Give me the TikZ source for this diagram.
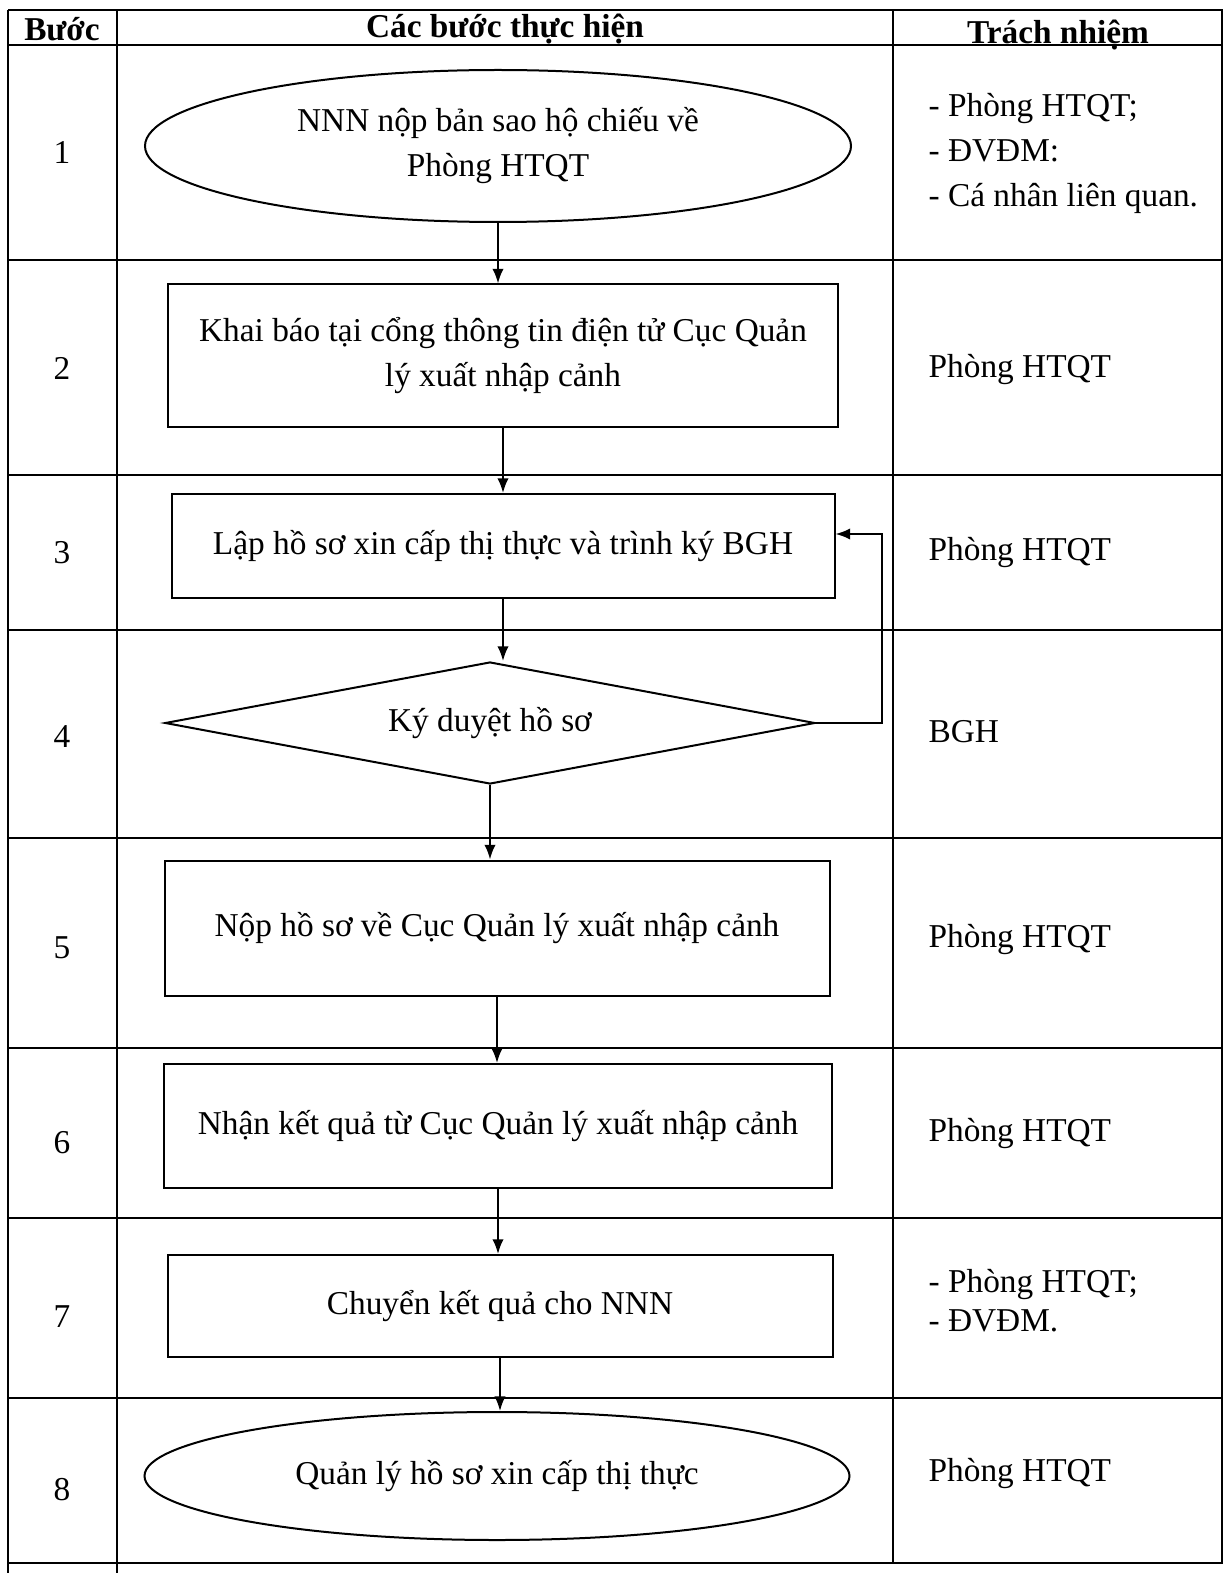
\documentclass[tikz,border=0pt]{standalone}
\usepackage{fontspec}
\setmainfont{Liberation Serif}
\usetikzlibrary{shapes.geometric,arrows.meta}
\tikzset{
  box/.style={draw, line width=0.6pt, rectangle, inner sep=0pt, align=center},
  oval/.style={draw, line width=0.6pt, ellipse, inner sep=0pt, align=center},
  choice/.style={draw, line width=0.6pt, diamond, aspect=5.3, inner sep=0pt, align=center},
  resp/.style={anchor=west, align=left, inner sep=0pt},
  head/.style={font=\fontsize{10}{13.5}\selectfont\bfseries},
}

\begin{document}
\begin{tikzpicture}
  [x=0.3pt, y=-0.3pt, font=\fontsize{10}{13.5}\selectfont,
   >={Latex[length=4.4pt,width=3.4pt]}]
  \useasboundingbox (0,0) rectangle (1226,1573);

  % table
  \draw[line width=0.5pt] (8,10) -- (1222,10) -- (1222,1563) -- (8,1563);
  \draw[line width=0.5pt] (8,10) -- (8,1573);
  \draw[line width=0.5pt] (117,10) -- (117,1573);
  \draw[line width=0.5pt] (893,10) -- (893,1563);
  \foreach \y in {45,260,475,630,838,1048,1218,1398}
  \draw[line width=0.5pt] (8,\y) -- (1222,\y);

  % header
  \node[head] (h1) at (62,29) {Bước};
  \node[head] (h2) at (505,29) {Các bước thực hiện};
  \node[head] (h3) at (1058,35) {Trách nhiệm};

  % steps
  \node (b1) at (62,153) {1};
  \node (b2) at (62,368) {2};
  \node (b3) at (62,553) {3};
  \node (b4) at (62,737) {4};
  \node (b5) at (62,948) {5};
  \node (b6) at (62,1143) {6};
  \node (b7) at (62,1317) {7};
  \node (b8) at (62,1490) {8};

  % flow
  \node[oval, minimum width=211.8pt, minimum height=45.6pt] (n1) at (498,146)
    {NNN nộp bản sao hộ chiếu về\\Phòng HTQT};
  \node[box, minimum width=201pt, minimum height=42.9pt] (n2) at (503,356)
    {Khai báo tại cổng thông tin điện tử Cục Quản\\lý xuất nhập cảnh};
  \node[box, minimum width=198.9pt, minimum height=31.2pt] (n3) at (503,546)
    {Lập hồ sơ xin cấp thị thực và trình ký BGH};
  \node[choice, minimum width=195pt, minimum height=36.6pt] (n4) at (490,723)
    {Ký duyệt hồ sơ};
  \node[box, minimum width=199.5pt, minimum height=40.5pt] (n5) at (497,928)
    {Nộp hồ sơ về Cục Quản lý xuất nhập cảnh};
  \node[box, minimum width=200.4pt, minimum height=37.2pt] (n6) at (498,1126)
    {Nhận kết quả từ Cục Quản lý xuất nhập cảnh};
  \node[box, minimum width=199.5pt, minimum height=30.6pt] (n7) at (500,1306)
    {Chuyển kết quả cho NNN};
  \node[oval, minimum width=211.5pt, minimum height=38.4pt] (n8) at (497,1476)
    {Quản lý hồ sơ xin cấp thị thực};

  \foreach \from/\to in {n1/n2,n2/n3,n3/n4,n4/n5,n5/n6,n6/n7,n7/n8}
  \draw[->, line width=0.6pt] (\from.south) -- (\from.south |- \to.north);
  \coordinate (back) at (882,534);
  \draw[->, line width=0.6pt] (n4.east) -- (n4.east -| back) -- (back) -- (back -| n3.east);

  % responsibility
  \node[resp] (r1) at (928,153) {- Phòng HTQT;\\- ĐVĐM:\\- Cá nhân liên quan.};
  \node[resp] (r2) at (928,370) {Phòng HTQT};
  \node[resp] (r3) at (928,553) {Phòng HTQT};
  \node[resp] (r4) at (928,732) {BGH};
  \node[resp] (r5) at (928,940) {Phòng HTQT};
  \node[resp] (r6) at (928,1133) {Phòng HTQT};
  \node[resp] (r7) at (928,1301) {- Phòng HTQT;\\[-1.8pt]- ĐVĐM.};
  \node[resp] (r8) at (928,1473) {Phòng HTQT};
\end{tikzpicture}
\end{document}
